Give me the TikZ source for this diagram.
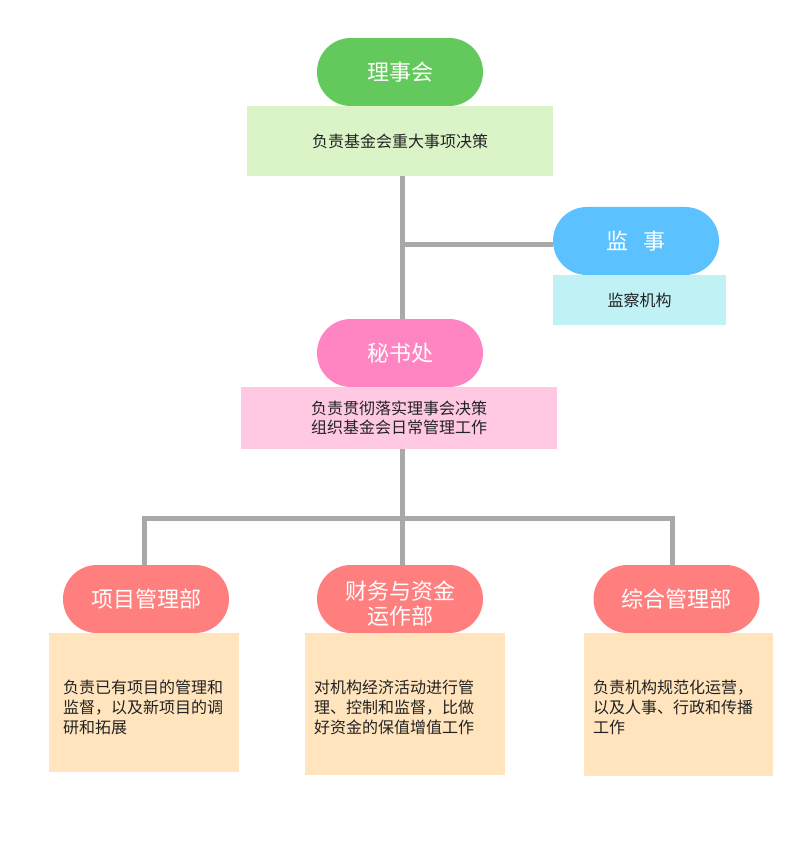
\documentclass[tikz,border=0pt]{standalone}
\usepackage{fontspec}
\setmainfont{Noto Sans CJK SC}
\definecolor{gpill}{RGB}{99,201,92}
\definecolor{gbox}{RGB}{218,244,200}
\definecolor{bpill}{RGB}{91,194,255}
\definecolor{cbox}{RGB}{191,241,245}
\definecolor{ppill}{RGB}{255,133,194}
\definecolor{pbox}{RGB}{255,200,227}
\definecolor{rpill}{RGB}{255,127,127}
\definecolor{obox}{RGB}{255,228,189}
\definecolor{linec}{RGB}{168,168,168}
\definecolor{textc}{RGB}{34,34,34}
\begin{document}
\begin{tikzpicture}[x=1pt,y=-1pt,
  pill/.style={rectangle, rounded corners=33.9pt, minimum width=166pt, minimum height=68pt, inner sep=0pt, text=white, font=\fontsize{22}{25}\selectfont, align=center},
  box/.style={rectangle, inner sep=0pt, text=textc, font=\fontsize{16}{19}\selectfont, align=center},
  desc/.style={inner sep=0pt, anchor=west, align=left, text=textc, font=\fontsize{16}{20}\selectfont},
  pilltext/.style={inner sep=0pt, text=white, font=\fontsize{22}{25}\selectfont, align=center},
  conn/.style={draw=linec, line width=5pt, line join=miter}]
\useasboundingbox[fill=white] (0,0) rectangle (800,850);

% top level
\node[pill, fill=gpill] (board) at (400,72) {理事会};
\node[box, fill=gbox, minimum width=306pt, minimum height=70pt] (boardbox) at (400,141) {负责基金会重大事项决策};

\node[pill, fill=bpill] (sup) at (636,241) {监\hspace{0.7em}事};
\node[box, fill=cbox, minimum width=173pt, minimum height=50pt] (supbox) at (639.5,300) {监察机构};

\node[pill, fill=ppill] (sec) at (400,353) {秘书处};
\node[box, fill=pbox, minimum width=316pt, minimum height=62pt] (secbox) at (399,418) {负责贯彻落实理事会决策\\组织基金会日常管理工作};

% departments
\node[pill, fill=rpill] (proj) at (146,599) {项目管理部};
\node[pill, fill=rpill] (fin) at (400,599) {};
\node[pilltext] (fintxt) at (400,604) {财务与资金\\运作部};
\node[pill, fill=rpill] (gen) at (676.5,599) {综合管理部};

\node[box, fill=obox, minimum width=190pt, minimum height=139pt] (projbox) at (144,702.5) {};
\node[box, fill=obox, minimum width=200pt, minimum height=142pt] (finbox) at (405,704) {};
\node[box, fill=obox, minimum width=189pt, minimum height=143pt] (genbox) at (678.5,704.5) {};

\node[desc] (projtxt) at (63,707) {负责已有项目的管理和\\监督，以及新项目的调\\研和拓展};
\node[desc] (fintxt2) at (314,707) {对机构经济活动进行管\\理、控制和监督，比做\\好资金的保值增值工作};
\node[desc] (gentxt) at (593,707) {负责机构规范化运营，\\以及人事、行政和传播\\工作};

% connectors
\coordinate (top) at (402.5,244);
\coordinate (mid) at (402.5,518);
\coordinate (bl) at (144,518);
\coordinate (br) at (672,518);

\draw[conn] (boardbox.south -| top) -- (sec.north -| top);
\draw[conn] (top) -- (sup.west |- top);
\draw[conn] (secbox.south -| mid) -- (fin.north -| mid);
\draw[conn] (proj.north -| bl) |- (br) -- (gen.north -| br);
\end{tikzpicture}
\end{document}
